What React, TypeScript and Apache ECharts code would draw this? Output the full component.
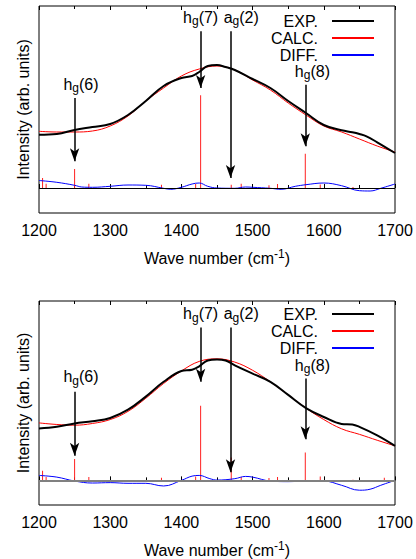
import React, { useEffect, useRef } from "react";
import * as echarts from "echarts";

const FONT = "Liberation Sans";

// ---------- top panel ----------
const topExpX = [1200,1225,1250,1275,1300,1325,1350,1375,1400,1415,1425,1437,1450,1462,1475,1500,1525,1550,1575,1600,1625,1640,1650,1660,1675,1700];
const topExpY = [53.3,54,58,61,64,73,87,102,110,112,116,122,123,121,118,109,100,87,75,63,57.7,55.7,54,51.7,45.7,35];
const topCalcX = [1200,1225,1250,1275,1300,1325,1350,1375,1400,1425,1450,1475,1500,1525,1550,1575,1600,1625,1650,1675,1700];
const topCalcY = [56.7,56,56,57,62,72,87,100,112,119,122,118,108,98,85,73,62,56,49,42,36];
const topDiffX = [1200,1225,1250,1260,1275,1300,1325,1350,1375,1385,1400,1415,1425,1437,1450,1475,1490,1500,1525,1540,1560,1575,1600,1625,1650,1665,1680,1700];
const topDiffY = [7.5,5.7,2.7,1,0.7,1.7,3,2.7,-0.3,-1.3,0.7,4,5,1.7,0,-0.3,1,0.7,-0.3,-1.3,1.7,3.3,5,2.3,-2.7,-3,-0.3,4];
const topStickX = [1205,1210,1250,1270,1372,1420,1427,1470,1484,1523,1535,1574,1595,1641];
const topStickY = [10,4.3,19,4.3,3.3,4,92.7,3.3,4.3,2.7,4,34.3,3.5,1];

// ---------- bottom panel ----------
const botExpX = [1200,1225,1250,1275,1300,1325,1350,1375,1400,1415,1425,1437,1450,1462,1475,1500,1525,1550,1575,1600,1625,1640,1650,1675,1700];
const botExpY = [52.7,54.3,57.7,60,63.3,71.7,85,100,111,112.3,115.7,121.7,122.7,121.7,116.7,108.3,100,86.7,73.3,64.3,57.3,56.7,54.3,45.7,35];
const botCalcX = [1200,1225,1250,1275,1300,1325,1350,1375,1400,1425,1450,1475,1500,1525,1550,1575,1600,1625,1650,1675,1700];
const botCalcY = [58.3,56.7,56,57.7,61.7,70,83.3,98.3,111,120.7,123.3,120,111.7,100,86.7,73.3,61.7,52.3,46.7,40.7,35];
const botDiffX = [1200,1225,1250,1275,1300,1325,1350,1375,1400,1415,1425,1440,1450,1475,1490,1500,1525,1550,1575,1600,1625,1650,1665,1680,1700];
const botDiffY = [5,3.3,-0.7,-2.7,-2.3,-3,-3,-5.7,0,4.3,5,1.7,0.3,1.7,4,3.3,-0.7,-1.3,-0.7,-0.7,-5,-10,-9,-5,0];
const botStickX = [1205,1210,1250,1270,1372,1420,1427,1470,1484,1523,1535,1574,1595,1641,1685];
const botStickY = [9.7,3.3,21.7,3.3,2.7,4,75.7,23.3,3.3,2.3,3.3,28.3,4,0.7,2.7];

// ---------- annotations (arrows + mode labels) ----------
const modeBase = ["h", "h", "a", "h"];
const modeSub = ["g", "g", "g", "g"];
const modeIdx = ["(6)", "(7)", "(2)", "(8)"];
const arrowX = [1250, 1427, 1469, 1574];
const labelX = [1259, 1427, 1484, 1584];
const topArrowStart = [90, 156.7, 156.7, 103.3];
const topArrowTip = [26.7, 100, 10, 41.7];
const topLabelY = [104, 171, 171, 117];
const botArrowStart = [90, 155, 155, 103.3];
const botArrowTip = [25, 100, 8.3, 41.7];
const botLabelY = [105, 169, 169, 117];

const xTicks = [1200, 1300, 1400, 1500, 1600, 1700];
const legendNames = ["EXP.", "CALC.", "DIFF."];

const zip = (xs: number[], ys: number[]) => xs.map((x, i) => [x, ys[i]]);

function panelSeries(
  gi: number,
  exp: number[][],
  calc: number[][],
  diff: number[][],
  sticks: number[][],
  aStart: number[],
  aTip: number[],
  lY: number[],
  baseColor: string,
  baseWidth: number
) {
  return [
    {
      type: "bar",
      name: "sticks",
      xAxisIndex: gi * 2,
      yAxisIndex: gi,
      data: sticks,
      barWidth: 1,
      itemStyle: { color: "#ff2020" },
      z: 2,
    },
    {
      type: "line",
      name: "DIFF.",
      xAxisIndex: gi * 2,
      yAxisIndex: gi,
      data: diff,
      smooth: 0.4,
      symbol: "none",
      lineStyle: { color: "#0000ff", width: 1 },
      itemStyle: { color: "#0000ff" },
      z: 3,
      markLine: {
        silent: true,
        symbol: "none",
        label: { show: false },
        lineStyle: { color: baseColor, width: baseWidth, type: "solid" },
        data: [{ yAxis: 0 }],
      },
    },
    {
      type: "line",
      name: "CALC.",
      xAxisIndex: gi * 2,
      yAxisIndex: gi,
      data: calc,
      smooth: 0.4,
      symbol: "none",
      lineStyle: { color: "#ff0000", width: 1 },
      itemStyle: { color: "#ff0000" },
      z: 4,
    },
    {
      type: "line",
      name: "EXP.",
      xAxisIndex: gi * 2,
      yAxisIndex: gi,
      data: exp,
      smooth: 0.4,
      symbol: "none",
      lineStyle: { color: "#000000", width: 2 },
      itemStyle: { color: "#000000" },
      z: 5,
    },
    {
      type: "scatter",
      name: "labels",
      xAxisIndex: gi * 2,
      yAxisIndex: gi,
      symbolSize: 0,
      z: 6,
      data: labelX.map((x, i) => ({
        value: [x, lY[i]],
        label: {
          show: true,
          position: "inside",
          opacity: 1,
          formatter: `{m|${modeBase[i]}}{s|${modeSub[i]}}{m|${modeIdx[i]}}`,
          rich: {
            m: { fontSize: 16, lineHeight: 16, fontFamily: FONT, color: "#000" },
            s: { fontSize: 12, lineHeight: 12, fontFamily: FONT, color: "#000", padding: [8, 0, 0, 0] },
          },
        },
      })),
      markLine: {
        silent: true,
        symbol: ["none", "arrow"],
        symbolSize: [7, 13],
        label: { show: false },
        lineStyle: { color: "#000", width: 1.5, type: "solid" },
        data: arrowX.map((x, i) => [
          { coord: [x, aStart[i]] },
          { coord: [x, aTip[i]] },
        ]),
      },
    },
  ];
}

export default function App() {
  const ref = useRef<HTMLDivElement>(null);
  useEffect(() => {
    if (!ref.current) return;
    const chart = echarts.init(ref.current, undefined, { renderer: "svg" });
    const grids = [
      { left: 39, top: 6, width: 356, height: 207 },
      { left: 39, top: 301, width: 356, height: 206 },
    ];
    const xAxes: any[] = [];
    const yAxes: any[] = [];
    grids.forEach((_, gi) => {
      xAxes.push({
        type: "value",
        gridIndex: gi,
        min: 1200,
        max: 1700,
        interval: 100,
        position: "bottom",
        axisLine: { show: false },
        axisTick: { show: true, inside: true, length: 4, lineStyle: { color: "#000" } },
        minorTick: { show: true, splitNumber: 2, length: 3, lineStyle: { color: "#000" } },
        splitLine: { show: false },
        axisLabel: {
          fontSize: 16,
          fontFamily: FONT,
          color: "#000",
          margin: 9,
          formatter: (v: number) => (xTicks.includes(v) ? String(v) : ""),
        },
        name: "Wave number (cm{sup|-1})",
        nameLocation: "middle",
        nameGap: 35,
        nameTextStyle: {
          fontSize: 16,
          fontFamily: FONT,
          color: "#000",
          rich: {
            sup: { fontSize: 12, fontFamily: FONT, color: "#000", padding: [0, 0, 8, 0] },
          },
        },
      });
      xAxes.push({
        type: "value",
        gridIndex: gi,
        min: 1200,
        max: 1700,
        interval: 100,
        position: "top",
        axisLine: { show: false },
        axisTick: { show: true, inside: true, length: 4, lineStyle: { color: "#000" } },
        minorTick: { show: true, splitNumber: 2, length: 3, lineStyle: { color: "#000" } },
        splitLine: { show: false },
        axisLabel: { show: false },
      });
      yAxes.push({
        type: "value",
        gridIndex: gi,
        min: -25,
        max: 182,
        axisLine: { show: false },
        axisTick: { show: false },
        axisLabel: { show: false },
        splitLine: { show: false },
        name: "Intensity (arb. units)",
        nameLocation: "middle",
        nameGap: 8,
        nameTextStyle: { fontSize: 16, fontFamily: FONT, color: "#000" },
      });
    });

    const series = [
      ...panelSeries(0, zip(topExpX, topExpY), zip(topCalcX, topCalcY), zip(topDiffX, topDiffY),
        zip(topStickX, topStickY), topArrowStart, topArrowTip, topLabelY, "#000000", 1),
      ...panelSeries(1, zip(botExpX, botExpY), zip(botCalcX, botCalcY), zip(botDiffX, botDiffY),
        zip(botStickX, botStickY), botArrowStart, botArrowTip, botLabelY, "#808080", 2),
    ];

    const legendBase = {
      orient: "vertical",
      align: "right",
      right: 41,
      padding: 0,
      itemWidth: 42,
      itemHeight: 14,
      itemGap: 1,
      selectedMode: false,
      data: legendNames,
      itemStyle: { opacity: 0 },
      textStyle: { fontSize: 16, fontFamily: FONT, color: "#000", padding: [0, 9, 0, 0] },
    };

    chart.setOption({
      animation: false,
      backgroundColor: "#ffffff",
      grid: grids.map((g) => ({ ...g, show: true, borderColor: "#000", borderWidth: 1, backgroundColor: "transparent" })),
      xAxis: xAxes,
      yAxis: yAxes,
      legend: [
        { ...legendBase, top: 13 },
        { ...legendBase, top: 306 },
      ],
      series,
    });
    return () => chart.dispose();
  }, []);
  return (
    <div
      ref={ref}
      style={{ position: "fixed", left: 0, top: 0, width: 416, height: 559 }}
    />
  );
}
